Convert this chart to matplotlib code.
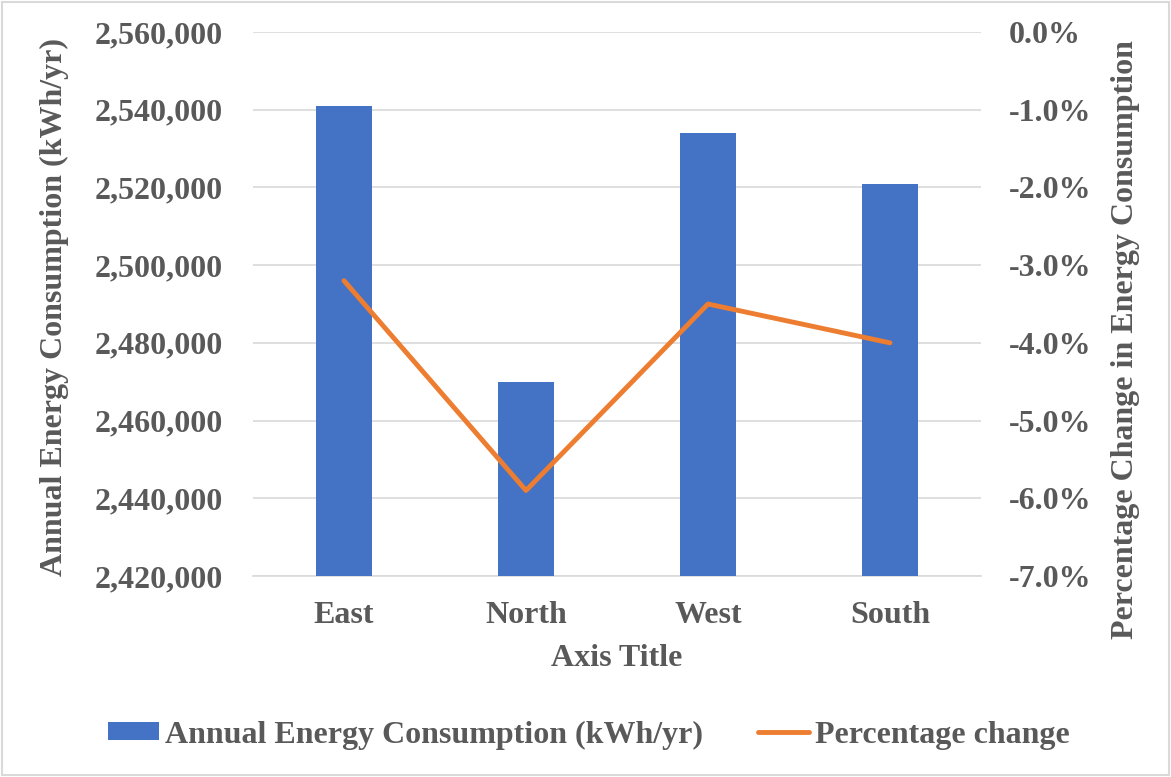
import numpy as np
import matplotlib
matplotlib.use("Agg")
from matplotlib import pyplot as plt
from matplotlib.ticker import FuncFormatter

# data
categories = ["East", "North", "West", "South"]
energy = [2541000, 2470000, 2534000, 2521000]
pct_change = [-3.2, -5.9, -3.5, -4.0]

plt.rcParams["font.family"] = ["Liberation Serif", "DejaVu Serif"]
plt.rcParams["font.weight"] = "bold"
txt = "#595959"
fs = 23

fig = plt.figure(figsize=(11.71, 7.77), dpi=100)
ax = fig.add_axes([253 / 1171, 1 - 576 / 777, 728 / 1171, 544 / 777])
ax2 = ax.twinx()

x = np.arange(len(categories))
bars = ax.bar(x, energy, width=0.31, color="#4472C4", zorder=3,
              label="Annual Energy Consumption (kWh/yr)")
line, = ax2.plot(x, pct_change, color="#ED7D31", lw=3.5, zorder=4,
                 solid_capstyle="round", label="Percentage change")

ax.set_xlim(-0.5, 3.5)
ax.set_ylim(2420000, 2560000)
ax.set_yticks(np.arange(2420000, 2560001, 20000))
ax.yaxis.set_major_formatter(FuncFormatter(lambda v, p: f"{v:,.0f}"))
ax2.set_ylim(-7, 0)
ax2.set_yticks(np.arange(-7, 0.1, 1))
ax2.yaxis.set_major_formatter(FuncFormatter(lambda v, p: f"{v:.1f}%"))

ax.grid(axis="y", color="#d9d9d9", lw=1.2, zorder=0)
ax.set_axisbelow(True)
for a in (ax, ax2):
    for s in a.spines.values():
        s.set_visible(False)
    a.tick_params(length=0, colors=txt, labelsize=fs)
ax.spines["bottom"].set_visible(True)
ax.spines["bottom"].set_color("#d9d9d9")
ax.spines["bottom"].set_linewidth(1.2)

ax.set_xticks(x)
ax.set_xticklabels(categories)
ax.tick_params(axis="x", pad=18)
ax.tick_params(axis="y", pad=22)
ax2.tick_params(axis="y", pad=20)

xl = ax.set_xlabel("Axis Title", fontsize=fs, color=txt, fontweight="bold")
ax.xaxis.set_label_coords(0.5, (576 - 658) / 544)
xl.set_va("center")
yl = ax.set_ylabel("Annual Energy Consumption (kWh/yr)", fontsize=fs, color=txt,
                   fontweight="bold")
ax.yaxis.set_label_coords((54 - 253) / 728, (576 - 307) / 544)
yl.set_va("center")
yr = ax2.set_ylabel("Percentage Change in Energy Consumption", fontsize=fs, color=txt,
                    fontweight="bold")
ax2.yaxis.set_label_coords((1126 - 253) / 728, (576 - 340) / 544)
yr.set_va("center")

leg = fig.legend(handles=[bars, line], loc="center", bbox_to_anchor=(0.503, 1 - 735 / 777),
                 ncol=2, frameon=False, fontsize=fs, handlelength=1.6, handleheight=0.5,
                 columnspacing=1.7, handletextpad=0.2)
for t in leg.get_texts():
    t.set_color(txt)

# light frame around the whole chart
fig.patches.append(plt.Rectangle((0.002, 0.002), 0.996, 0.996, transform=fig.transFigure,
                                 fill=False, edgecolor="#d9d9d9", lw=1.5))

fig.savefig("out.png", dpi=100)
